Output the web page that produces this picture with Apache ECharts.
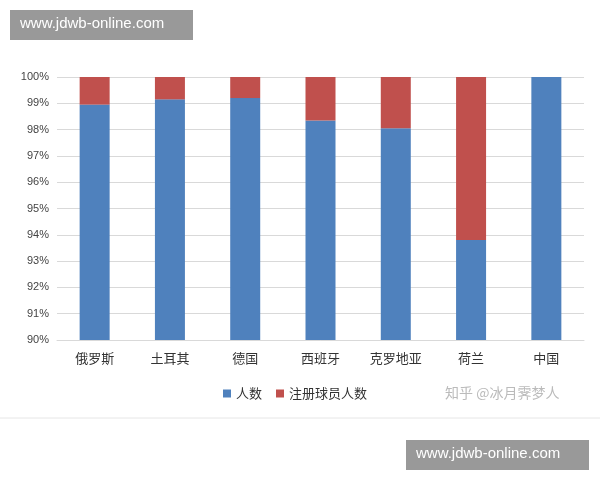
<!DOCTYPE html><html><head><meta charset="utf-8"><script src="https://cdn.jsdelivr.net/npm/echarts@6/dist/echarts.min.js"></script>
<style>body{margin:0;background:#fff}#c{width:600px;height:480px}</style></head><body><div id="c"></div><script>
const categories=['俄罗斯','土耳其','德国','西班牙','克罗地亚','荷兰','中国'];
const people=[98.95,99.15,99.2,98.35,98.05,93.8,100];
const registered=[1.05,0.85,0.8,1.65,1.95,6.2,0];
const c=echarts.init(document.getElementById('c'));
c.setOption({
 animation:false,
 grid:{left:57,right:16,top:77,bottom:140},
 legend:{bottom:75,left:218,itemWidth:8,itemHeight:8,itemGap:14,icon:'rect',textStyle:{fontSize:13,color:'#333',fontFamily:'Noto Sans CJK SC'},data:['人数','注册球员人数']},
 xAxis:{type:'category',data:categories,axisLine:{lineStyle:{color:'#d9d9d9'}},axisTick:{show:false},axisLabel:{fontSize:13,color:'#333',margin:12,fontFamily:'Noto Sans CJK SC'}},
 yAxis:{type:'value',min:90,max:100,interval:1,axisLabel:{formatter:'{value}%',fontSize:11,color:'#444'},splitLine:{lineStyle:{color:'#d9d9d9'}},axisLine:{show:false}},
 series:[
  {name:'人数',type:'bar',stack:'a',data:people,barWidth:30,itemStyle:{color:'#4f81bd'}},
  {name:'注册球员人数',type:'bar',stack:'a',data:registered,barWidth:30,itemStyle:{color:'#c0504d'}}
 ],
 graphic:[
  {type:'rect',left:10,top:10,shape:{width:183,height:30},style:{fill:'#999'}},
  {type:'text',left:20,top:16,style:{text:'www.jdwb-online.com',fill:'#fff',fontSize:15}},
  {type:'rect',left:406,top:440,shape:{width:183,height:30},style:{fill:'#999'}},
  {type:'text',left:416,top:446,style:{text:'www.jdwb-online.com',fill:'#fff',fontSize:15}},
  {type:'text',left:445,top:386,style:{text:'知乎 @冰月霁梦人',fill:'#bbb',fontSize:14,fontFamily:'Noto Sans CJK SC'}},
  {type:'line',shape:{x1:0,y1:418,x2:600,y2:418},style:{stroke:'#e6e6e6'}}
 ]
});
</script></body></html>
